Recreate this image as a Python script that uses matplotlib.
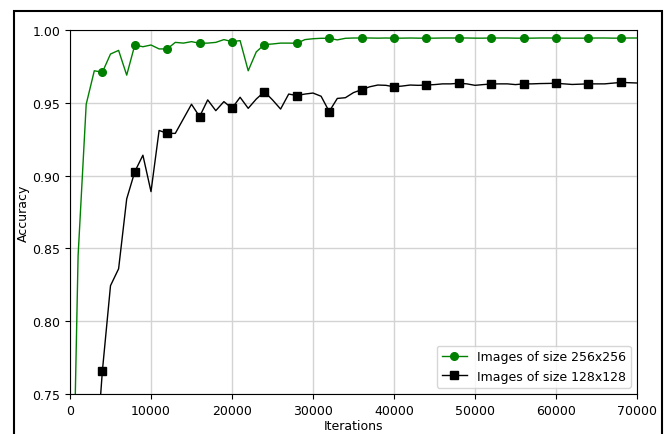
import numpy as np
import matplotlib
matplotlib.use("Agg")
import matplotlib.pyplot as plt
from matplotlib.patches import Rectangle

iteraciones = np.arange(0, 71000, 1000)

acc_256 = [0.57, 0.845, 0.949, 0.972, 0.971, 0.9835, 0.986, 0.969, 0.9897, 0.9885,
           0.9897, 0.987, 0.987, 0.9915, 0.991, 0.992, 0.9909, 0.991, 0.9915, 0.9934,
           0.992, 0.9927, 0.972, 0.985, 0.990, 0.9904, 0.991, 0.991, 0.9909, 0.9934,
           0.9940, 0.9943, 0.9943, 0.9932, 0.9943, 0.9945, 0.9945, 0.9945, 0.9944, 0.9945,
           0.9944, 0.9944, 0.9945, 0.9944, 0.9944, 0.9944, 0.9945, 0.9945, 0.9945, 0.9945,
           0.9944, 0.9944, 0.9945, 0.9945, 0.9945, 0.9944, 0.9944, 0.9944, 0.9945, 0.9945,
           0.9945, 0.9944, 0.9944, 0.9944, 0.9944, 0.9945, 0.9945, 0.9944, 0.9944, 0.9945,
           0.9945]

acc_128 = [0.50, 0.52, 0.58, 0.69, 0.766, 0.8244, 0.836, 0.884, 0.9027, 0.914,
           0.889, 0.931, 0.929, 0.929, 0.939, 0.949, 0.9405, 0.952, 0.9446, 0.9508,
           0.9462, 0.9538, 0.9462, 0.9526, 0.9576, 0.952, 0.9457, 0.956, 0.955, 0.956,
           0.9567, 0.9545, 0.944, 0.953, 0.9535, 0.957, 0.959, 0.961, 0.9622, 0.962,
           0.961, 0.9615, 0.9622, 0.962, 0.9622, 0.9625, 0.963, 0.963, 0.9634, 0.963,
           0.962, 0.9625, 0.9629, 0.963, 0.963, 0.9625, 0.963, 0.963, 0.9632, 0.9633,
           0.9634, 0.963, 0.9626, 0.9628, 0.963, 0.963, 0.963, 0.9635, 0.964, 0.9638,
           0.9636]

fig = plt.figure(figsize=(6.72, 4.35), dpi=100)
ax = fig.add_axes([70 / 672, 1 - 395 / 435, 567 / 672, 364 / 435])

ax.plot(iteraciones, acc_256, color="green", linewidth=1, marker="o",
        markersize=5.5, markevery=slice(4, None, 4), label="Images of size 256x256")
ax.plot(iteraciones, acc_128, color="black", linewidth=1, marker="s",
        markersize=5.5, markevery=slice(4, None, 4), label="Images of size 128x128")

ax.set_xlim(0, 70000)
ax.set_ylim(0.75, 1.00)
ax.set_xticks(np.arange(0, 70001, 10000))
ax.set_yticks(np.arange(0.75, 1.001, 0.05))
ax.tick_params(labelsize=9)
ax.grid(True, color="lightgray", linewidth=1)
ax.set_axisbelow(True)

ax.set_xlabel("Iterations", fontsize=9, labelpad=2)
ax.set_ylabel("Accuracy", fontsize=9, labelpad=2)
ax.legend(loc="lower right", fontsize=9)

# marco exterior
fig.add_artist(Rectangle((14 / 672, -0.1), (662 - 14) / 672, 1 - 12 / 435 + 0.1,
                         transform=fig.transFigure, fill=False,
                         edgecolor="black", linewidth=1.5))

plt.savefig("out.png", dpi=100)
plt.close()
